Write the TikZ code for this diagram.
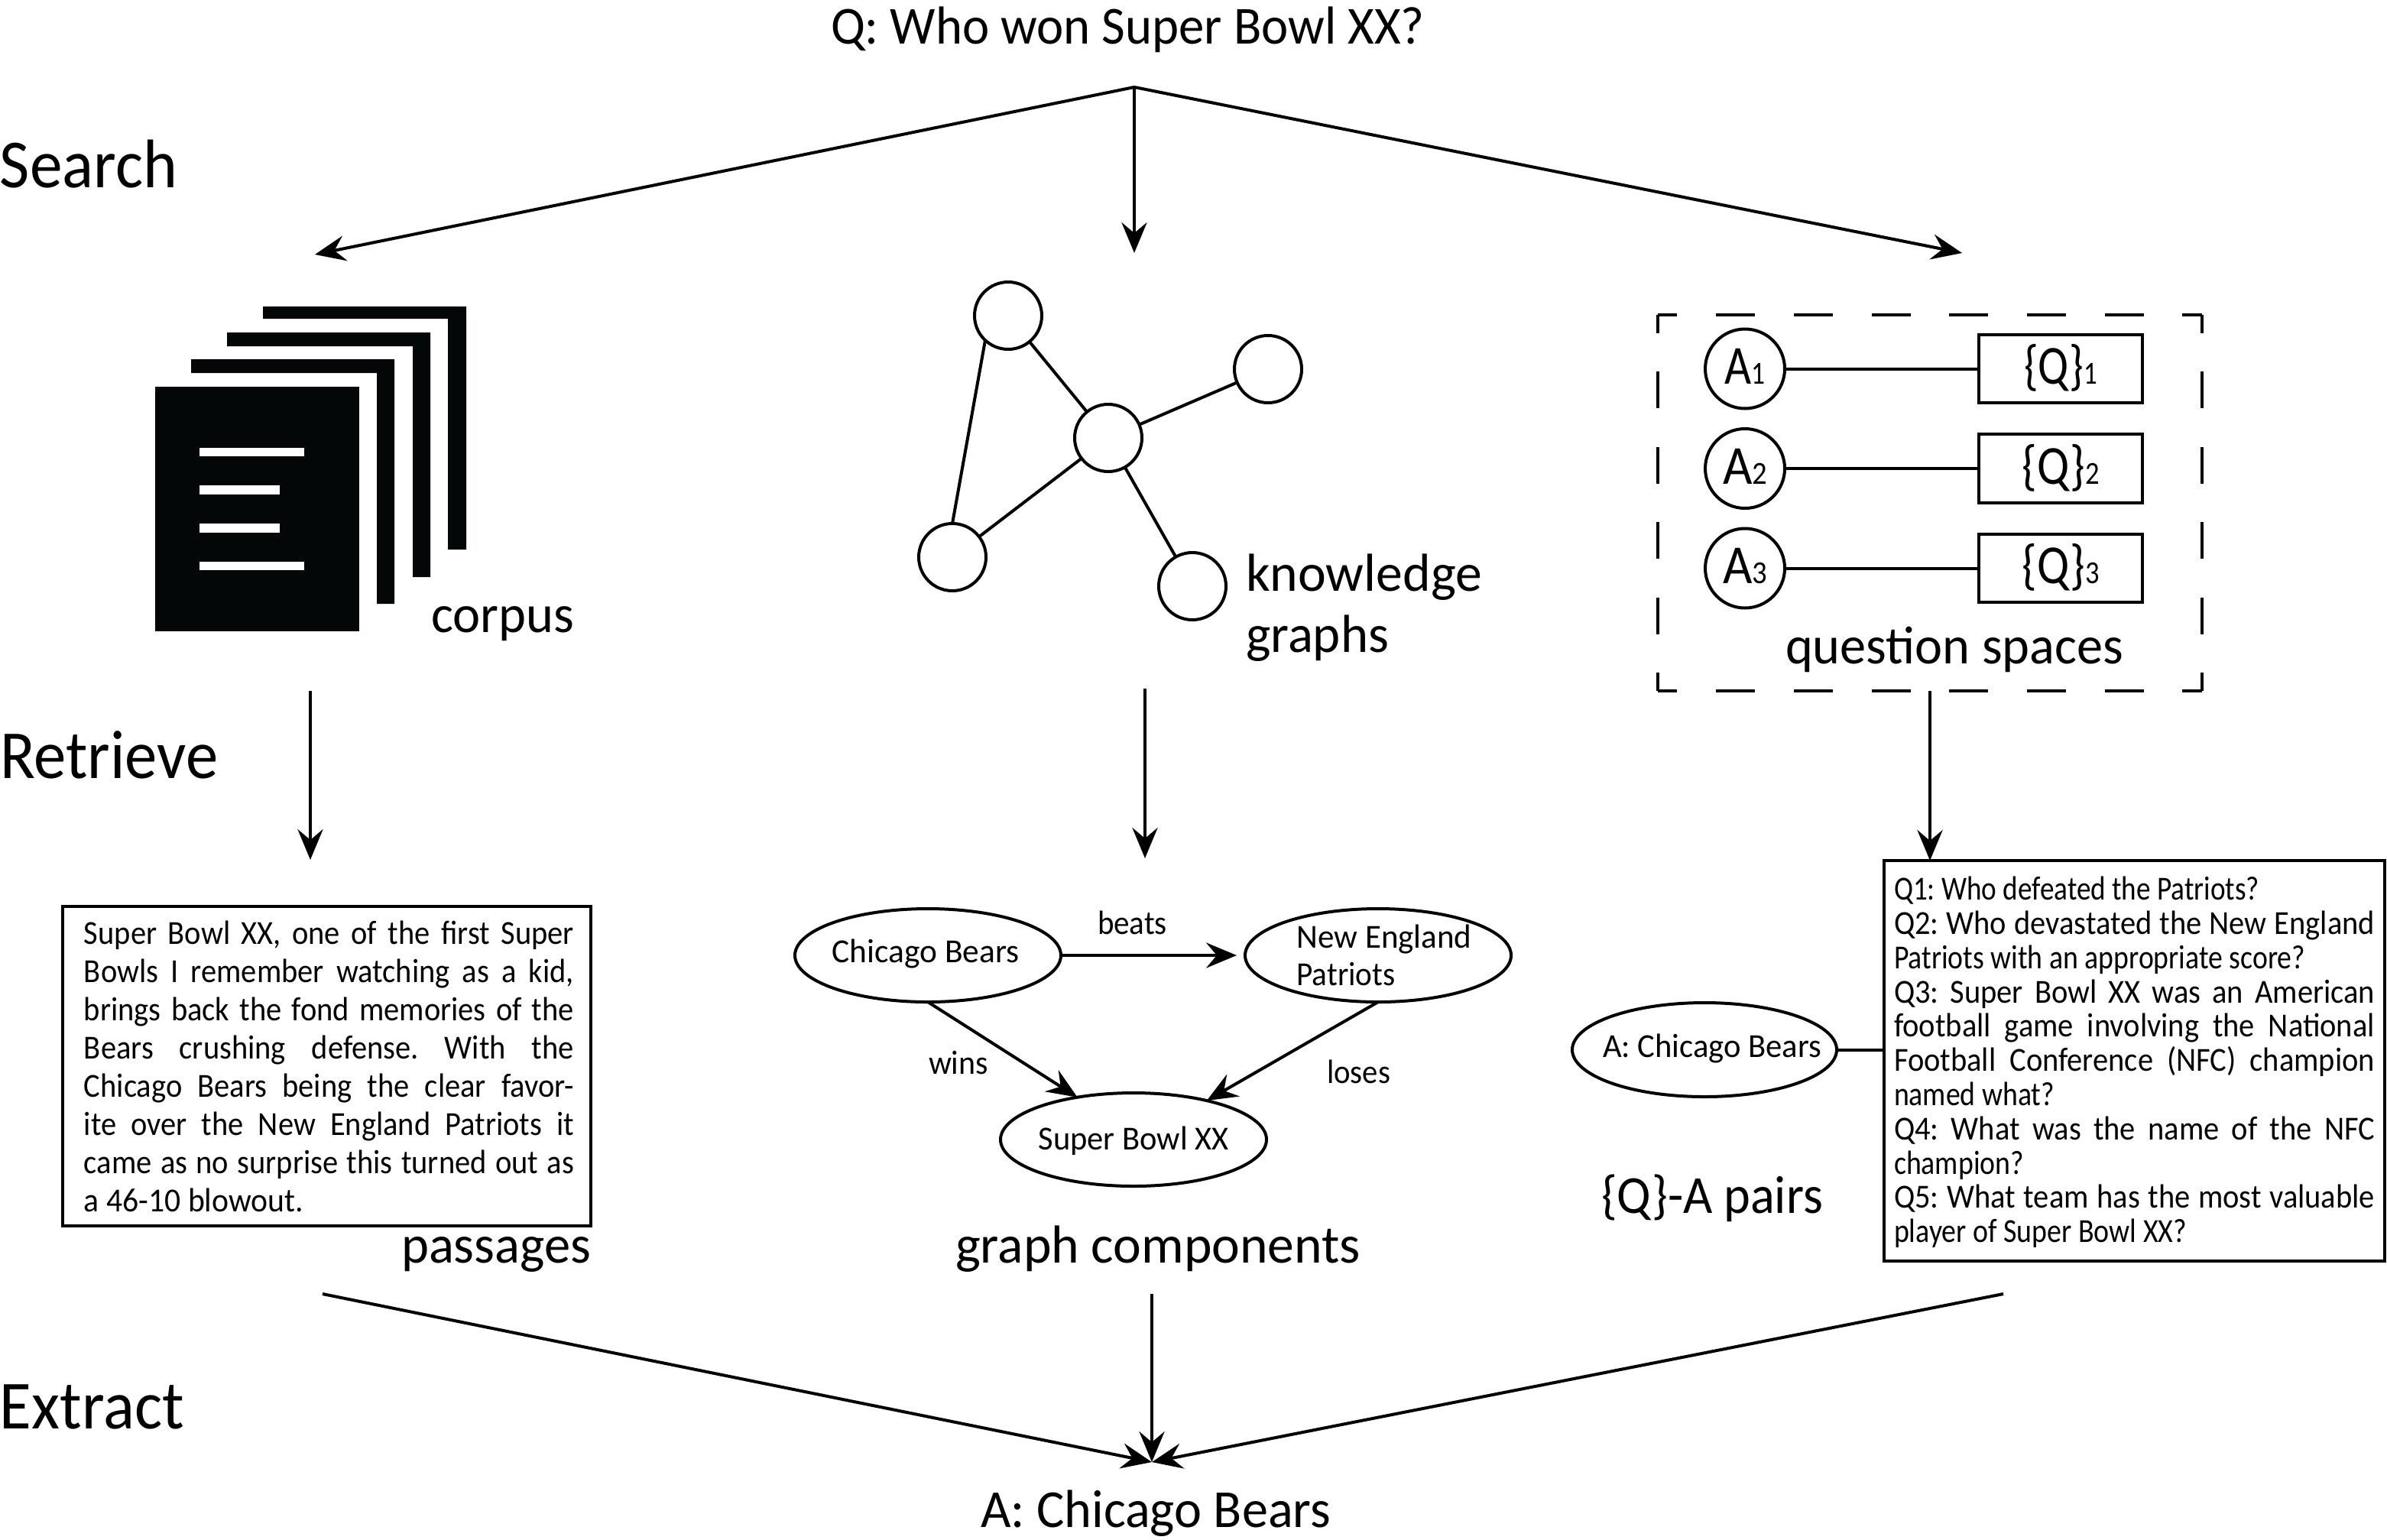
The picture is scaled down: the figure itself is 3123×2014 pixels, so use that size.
\documentclass[tikz,border=0pt]{standalone}
\usepackage{fontspec}
\usepackage{graphicx}
\setmainfont{Carlito}
\AtBeginDocument{\frenchspacing}
\usetikzlibrary{arrows.meta,shapes.geometric}
\newcommand\fs[1]{\fontsize{#1}{#1}\selectfont}
\newcommand\fw[2]{\resizebox{\dimexpr #1pt/4\relax}{\height}{#2}}
\newcommand\ew[2]{\makebox[0pt]{\fw{#1}{#2}}}
\newsavebox\jbox
\newcommand\jl[2]{\sbox\jbox{#2}\ifdim\wd\jbox>\dimexpr #1pt*25/92\relax\resizebox{\dimexpr #1pt/4\relax}{\height}{\usebox\jbox}\else\scalebox{0.92}[1]{\makebox[\dimexpr #1pt*25/92\relax][s]{#2}}\fi}
\definecolor{ink}{HTML}{040708}
\tikzset{
  lw/.style={line width=1pt,draw=black},
  con/.style={lw,-{Stealth[length=10pt,width=8.3pt,inset=3.5pt]}},
  lnk/.style={lw},
  lbl/.style={anchor=base west,inner sep=0pt,outer sep=0pt},
  big/.style={lbl,font=\fs{22.5}},
  mid/.style={lbl,font=\fs{17.5}},
  sml/.style={lbl,font=\fs{11}},
  gnode/.style={circle,lw,inner sep=0pt,outer sep=0pt,minimum size=22pt},
  anode/.style={circle,lw,inner sep=0pt,outer sep=0pt,minimum size=26pt,text height=10pt,text depth=0pt,font=\fs{18}},
  qnode/.style={rectangle,lw,inner sep=0pt,outer sep=0pt,minimum width=53.5pt,minimum height=22.3pt,text height=10pt,text depth=0pt,font=\fs{18}},
  enode/.style={ellipse,lw,inner sep=0pt,outer sep=0pt,minimum width=87pt,minimum height=30.5pt,font=\fs{11}},
  pbox/.style={rectangle,lw,inner sep=0pt,outer sep=0pt,font=\fs{11}},
  dashh/.style={lw,dash pattern=on 12.75pt off 12.68pt,dash phase=6.4pt},
  dashv/.style={lw,dash pattern=on 12pt off 12.6pt,dash phase=6pt},
  sheet/.style={fill=ink,draw=none},
  slot/.style={fill=white,draw=none},
}
\begin{document}
\begin{tikzpicture}[x=0.25pt,y=-0.25pt]
\path[use as bounding box] (0,0) rectangle (3123,2014);

% titles and row names
\node[mid] (q) at (1087,57) {\fw{777}{Q: Who won Super Bowl XX?}};
\node[big] (search) at (0,245) {\fw{232}{Search}};
\node[big] (retrieve) at (0,1018) {\fw{285}{Retrieve}};
\node[big] (extract) at (0,1869) {\fw{241}{Extract}};
\node[mid] (answer) at (1283,1998) {\fw{458}{A: Chicago Bears}};

% corpus icon
\fill[sheet] (344,401) -- (610,401) -- (610,719) -- (586,719) -- (586,417) -- (344,417) -- cycle;
\fill[sheet] (297,435) -- (563,435) -- (563,755) -- (540,755) -- (540,453) -- (297,453) -- cycle;
\fill[sheet] (250,470) -- (516,470) -- (516,790) -- (493,790) -- (493,488) -- (250,488) -- cycle;
\fill[sheet] (203,506) rectangle (470,826);
\fill[slot] (261,586) rectangle (398,597);
\fill[slot] (261,635) rectangle (366,647);
\fill[slot] (261,685) rectangle (366,697);
\fill[slot] (261,735) rectangle (398,746);
\node[mid] (corpus) at (564,827) {\fw{187}{corpus}};

% knowledge graph
\node[gnode] (g1) at (1319,413) {};
\node[gnode] (g2) at (1659,483) {};
\node[gnode] (g3) at (1450,573) {};
\node[gnode] (g4) at (1246,729) {};
\node[gnode] (g5) at (1560,767) {};
\draw[lnk] (g1.227) -- (g4.north);
\draw[lnk] (g1) -- (g3);
\draw[lnk] (g3) -- (g2);
\draw[lnk] (g3) -- (g4);
\draw[lnk] (g3) -- (g5);
\node[mid] (kg1) at (1630,773) {\fw{309}{knowledge}};
\node[mid] (kg2) at (1630,853) {\fw{187}{graphs}};

% question spaces
\node[rectangle,inner sep=0pt,outer sep=0pt,minimum width=178pt,minimum height=123pt] (qs) at (2525,658) {};
\draw[dashh] (qs.north west) -- (qs.north east);
\draw[dashh] (qs.south west) -- (qs.south east);
\draw[dashv] (qs.north west) -- (qs.south west);
\draw[dashv] (qs.north east) -- (qs.south east);
\node[anode] (a1) at (2283,482.5) {\fw{53}{A{\fs{10.5}1}}};
\node[anode] (a2) at (2283,613) {\fw{58}{A{\fs{10.5}2}}};
\node[anode] (a3) at (2283,743.5) {\fw{58}{A{\fs{10.5}3}}};
\node[qnode] (q1) at (2696,482.5) {\fw{96}{\{Q\}{\fs{10.5}1}}};
\node[qnode] (q2) at (2696,613) {\fw{101}{\{Q\}{\fs{10.5}2}}};
\node[qnode] (q3) at (2696,743.5) {\fw{101}{\{Q\}{\fs{10.5}3}}};
\draw[lnk] (a1) -- (q1);
\draw[lnk] (a2) -- (q2);
\draw[lnk] (a3) -- (q3);
\node[mid] (qslabel) at (2336,868) {\fw{442}{question spaces}};

% passage
\node[pbox,minimum width=172.75pt,minimum height=104.5pt] (pass) at (427,1395) {\kern1.75pt\vbox{\baselineskip=12.5pt\lineskip=0pt
  \hbox{\jl{641}{Super Bowl XX, one of the first Super}}
  \hbox{\jl{641}{Bowls I remember watching as a kid,}}
  \hbox{\jl{641}{brings back the fond memories of the}}
  \hbox{\jl{641}{Bears crushing defense. With the}}
  \hbox{\jl{641}{Chicago Bears being the clear favor-}}
  \hbox{\jl{641}{ite over the New England Patriots it}}
  \hbox{\jl{641}{came as no surprise this turned out as}}
  \hbox{\fw{287}{a 46-10 blowout.}}}};
\node[mid] (passlabel) at (525,1652) {\fw{248}{passages}};

% graph components
\node[enode] (chi) at (1214,1250) {\kern-1.5pt\raisebox{-2.25pt}[0pt][0pt]{\ew{245}{Chicago Bears}}};
\node[enode] (ne) at (1803,1250) {\kern4pt\raisebox{2.5pt}[0pt][0pt]{\makebox[0pt]{\vtop{\baselineskip=12.25pt\lineskip=0pt\hbox{\fw{229}{New England}}\hbox to 57.25pt{\fw{129}{Patriots}\hss}}}}};
\node[enode] (sb) at (1483,1491) {\raisebox{-3.25pt}[0pt][0pt]{\ew{249}{Super Bowl XX}}};
\draw[con,shorten >=2.75pt] (chi) -- (ne);
\draw[con] (chi.south) -- (sb.143);
\draw[con] (ne.south) -- (sb.28);
\node[sml] (beats) at (1436,1222) {\fw{91}{beats}};
\node[sml] (wins) at (1215,1405) {\fw{78}{wins}};
\node[sml] (loses) at (1736,1417) {\fw{83}{loses}};
\node[mid] (gclabel) at (1250,1652) {\fw{530}{graph components}};

% question-answer pairs
\node[enode,minimum width=86.5pt,minimum height=30.75pt] (qa) at (2230,1373.5) {\kern5pt\raisebox{-2.4pt}[0pt][0pt]{\ew{286}{A: Chicago Bears}}};
\node[pbox,minimum width=163.75pt,minimum height=131pt] (qlist) at (2792.5,1388) {\vbox{\baselineskip=11.2pt\lineskip=0pt
  \hbox{\fw{478}{Q1: Who defeated the Patriots?}}
  \hbox{\jl{629}{Q2: Who devastated the New England}}
  \hbox{\fw{538}{Patriots with an appropriate score?}}
  \hbox{\jl{629}{Q3: Super Bowl XX was an American}}
  \hbox{\jl{629}{football game involving the National}}
  \hbox{\jl{629}{Football Conference (NFC) champion}}
  \hbox{\fw{210}{named what?}}
  \hbox{\jl{629}{Q4: What was the name of the NFC}}
  \hbox{\fw{170}{champion?}}
  \hbox{\jl{629}{Q5: What team has the most valuable}}
  \hbox{\fw{383}{player of Super Bowl XX?}}\vskip-1pt}};
\draw[lnk] (qa.east) -- (qa.east -| qlist.west);
\node[mid] (pairs) at (2095,1587) {\fw{290}{\{Q\}-A pairs}};

% search arrows
\coordinate (apex) at (1484,114);
\coordinate (s1) at (412,333);
\coordinate (s2) at (1484,331);
\coordinate (s3) at (2567,331);
\draw[con] (apex) -- (s1);
\draw[con] (apex) -- (s2);
\draw[con] (apex) -- (s3);

% retrieve arrows
\coordinate (r1a) at (406,904);
\coordinate (r1b) at (406,1125);
\coordinate (r2a) at (1498,901);
\coordinate (r2b) at (1498,1123);
\draw[con] (r1a) -- (r1b);
\draw[con] (r2a) -- (r2b);
\draw[con] (qs.south) -- (qs.south |- qlist.north);

% extract arrows
\coordinate (e1) at (422,1693);
\coordinate (e2) at (1507,1693);
\coordinate (e3) at (2621,1693);
\coordinate (sink) at (1507,1913);
\draw[con] (e1) -- (sink);
\draw[con] (e2) -- (sink);
\draw[con] (e3) -- (sink);
\end{tikzpicture}
\end{document}
